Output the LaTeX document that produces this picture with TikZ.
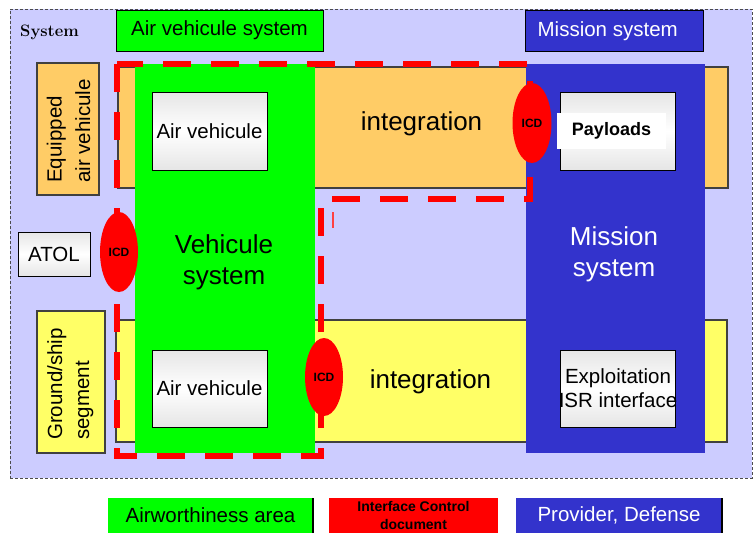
\documentclass[tikz,border=0pt]{standalone}
\usepackage{fontspec}
\setsansfont{Liberation Sans}
\usepackage{xcolor}
\usetikzlibrary{shapes.geometric}

\definecolor{syslav}{RGB}{204,204,255}
\definecolor{avgreen}{RGB}{0,255,0}
\definecolor{misblue}{RGB}{51,51,204}
\definecolor{eqorange}{RGB}{255,204,102}
\definecolor{gsyellow}{RGB}{255,255,102}
\definecolor{icdred}{RGB}{255,0,0}
\definecolor{edgegray}{RGB}{64,64,64}
\newcommand{\normaltxt}{\sffamily\fontsize{20.5}{24}\selectfont}

\begin{document}
\begin{tikzpicture}[x=1pt, y=-1pt,
    area/.style={rectangle, inner sep=0pt, outer sep=0pt},
    sz/.style 2 args={minimum width=#1pt, minimum height=#2pt},
    band/.style={area, draw=edgegray, line width=1.2pt},
    greybox/.style={area, draw=black, line width=0.9pt, top color=gray!20, bottom color=gray!20, middle color=white, font=\normaltxt},
    icd/.style={ellipse, fill=icdred, inner sep=0pt, font=\sffamily\bfseries\fontsize{12}{13}\selectfont},
    txt/.style={inner sep=0pt, font=\normaltxt},
    bigtxt/.style={inner sep=0pt, align=center, font=\sffamily\fontsize{26}{31.7}\selectfont},
    sidetxt/.style={inner sep=0pt, anchor=base west, rotate=90, font=\normaltxt},
    icdframe/.style={draw=icdred, line width=6pt, dash pattern=on 28pt off 20pt}]
    \useasboundingbox (0,0) rectangle (753,533);
    % whole system
    \node[area, sz={742}{469}, fill=syslav, draw=gray!60!black, line width=0.8pt, dash pattern=on 3pt off 2pt] (sys) at (381,243.5) {};
    \node[inner sep=0pt, anchor=base west, font=\rmfamily\bfseries\fontsize{16.5}{18}\selectfont] (syslbl) at (20,36) {System};
    % headings
    \node[area, sz={207}{41}, fill=avgreen, draw=black, line width=1pt, font=\normaltxt] (avsys) at (219.5,30.5) {Air vehicule system};
    \node[area, sz={178}{41}, fill=misblue, draw=black, line width=1pt] (missys) at (614,30.5) {};
    \node[txt, anchor=base, text=white] (missyslbl) at (607.7,36.7) {Mission system};
    % bands
    \node[band, sz={610}{121}, fill=eqorange] (airband) at (423,127.5) {};
    \node[band, sz={611}{122}, fill=gsyellow] (gndband) at (421.5,381) {};
    % side boxes
    \node[band, sz={62}{132}, fill=eqorange] (equip) at (68,129) {};
    \node[band, sz={68}{142}, fill=gsyellow] (ground) at (71,382) {};
    \node[greybox, sz={72}{44}] (atol) at (54,254) {ATOL};
    % vehicule and mission columns
    \node[area, sz={180}{389}, fill=avgreen] (vehsys) at (225,258.5) {};
    \node[area, sz={179}{389}, fill=misblue] (mission) at (615.5,258.5) {};
    % boxes inside the columns
    \node[greybox, sz={115}{78}] (avtop) at (209.5,131) {Air vehicule};
    \node[greybox, sz={115}{77}] (avbot) at (209.5,388.5) {Air vehicule};
    \node[greybox, sz={115}{78}] (payl) at (617.5,131) {};
    \node[area, sz={109}{36}, fill=white, font=\sffamily\bfseries\fontsize{18}{20}\selectfont] (payltxt) at (611.5,131) {Payloads};
    \node[greybox, sz={115}{77}] (exploit) at (617.5,388.5) {};
    \node[txt, align=center] (exploittxt) at (618,388.5) {Exploitation\\ISR interface};
    % red ICD frame
    \draw[icdframe] (117,64) -- (117,456) -- (321,456) -- (321,199) -- (530,199) -- (530,64) -- cycle;
    \draw[icdred!75, line width=1.5pt] (333,212) -- (333,228);
    % ICD
    \node[icd, sz={39}{80}] (icdpay) at (532,123) {ICD};
    \node[icd, sz={38}{80}] (icdatol) at (119,252) {ICD};
    \node[icd, sz={38}{78}] (icdgnd) at (324,377) {ICD};
    % texts
    \node[bigtxt, anchor=base] (inttop) at (421.5,130) {integration};
    \node[bigtxt, anchor=base] (intbot) at (430.5,388) {integration};
    \node[bigtxt] (vehtxt) at (224,262.4) {Vehicule\\system};
    \node[bigtxt, text=white] (mistxt) at (614,254.3) {Mission\\system};
    \node[sidetxt] (equiptxt) at (61.5,183) {Equipped};
    \node[sidetxt] (equiptxtb) at (90,183) {air vehicule};
    \node[sidetxt] (groundtxt) at (62,440) {Ground/ship};
    \node[sidetxt] (groundtxtb) at (89,440) {segment};
    % legend
    \node[area, sz={205}{35}, fill=avgreen, font=\normaltxt] (legair) at (210.5,515.5) {Airworthiness area};
    \node[area, sz={169}{35}, fill=icdred, align=center, font=\sffamily\bfseries\fontsize{14}{18.3}\selectfont] (legicd) at (413.5,515.5) {Interface Control\\document};
    \node[area, sz={206}{35}, fill=misblue, text=white, font=\normaltxt] (legprov) at (619,515.5) {Provider, Defense};
    \draw[line width=1.5pt] (legair.north east) -- (legair.south east);
    \draw[line width=1.5pt] (legprov.north east) -- (legprov.south east);
\end{tikzpicture}
\end{document}
